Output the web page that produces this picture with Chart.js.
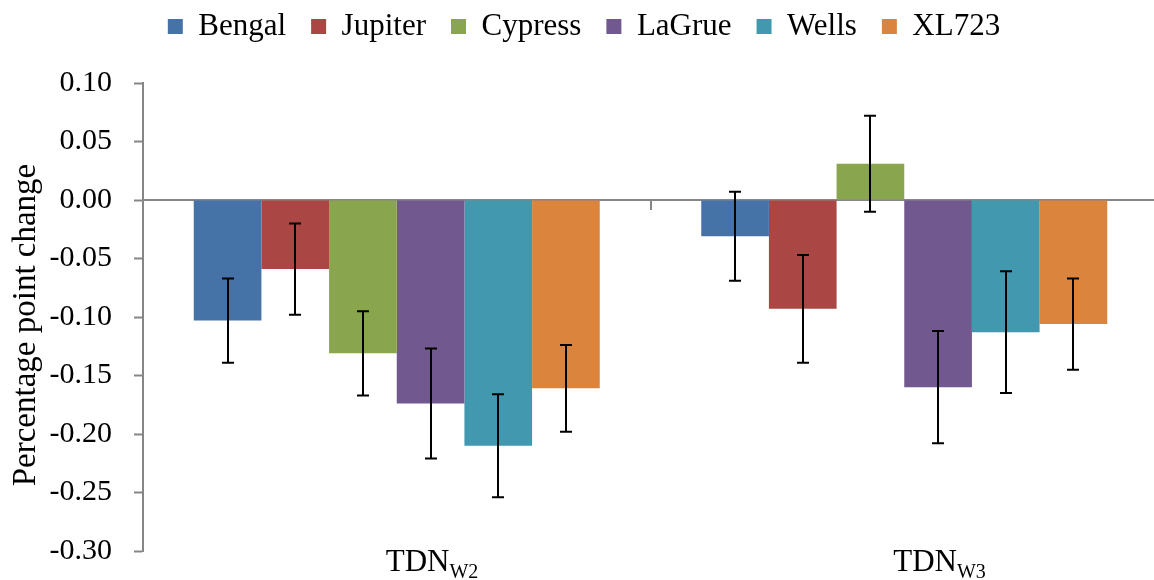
<!DOCTYPE html>
<html>
<head>
<meta charset="utf-8">
<script src="https://cdn.jsdelivr.net/npm/chart.js@4/dist/chart.umd.min.js"></script>
<style>
  html, body { margin: 0; padding: 0; overflow: hidden; background: #ffffff; }
  canvas { display: block; }
</style>
</head>
<body>
<canvas id="chart" width="1158" height="580" style="width:1158px;height:580px"></canvas>
<script>
// Categories: trait name with subscript (week)
const labelBase = ['TDN', 'TDN'];
const labelSub = ['W2', 'W3'];
const categories = labelBase.map((b, i) => b + labelSub[i]);

// Cultivars
const seriesNames = ['Bengal', 'Jupiter', 'Cypress', 'LaGrue', 'Wells', 'XL723'];

// Mean percentage point change per cultivar
const bengal  = [-0.103, -0.031];
const jupiter = [-0.059, -0.093];
const cypress = [-0.131,  0.031];
const lagrue  = [-0.174, -0.160];
const wells   = [-0.210, -0.113];
const xl723   = [-0.161, -0.106];

// Error bar half-lengths
const bengalErr  = [0.036, 0.038];
const jupiterErr = [0.039, 0.046];
const cypressErr = [0.036, 0.041];
const lagrueErr  = [0.047, 0.048];
const wellsErr   = [0.044, 0.052];
const xl723Err   = [0.037, 0.039];

// Value axis
const yMin = -0.30;
const yMax = 0.10;
const yStep = 0.05;
const yTitle = 'Percentage point change';

const seriesValues = [bengal, jupiter, cypress, lagrue, wells, xl723];
const seriesErrors = [bengalErr, jupiterErr, cypressErr, lagrueErr, wellsErr, xl723Err];
const seriesColors = ['#4572A7', '#AA4643', '#89A54E', '#71588F', '#4198AF', '#DB843D'];

const FONT = '"Liberation Serif", "Times New Roman", serif';
const AXIS_GREY = '#868686';

// Pins the legend block height so the plot area starts where it should
const legendHeight = {
  id: 'legendHeight',
  beforeLayout(chart) {
    const lg = chart.legend;
    if (lg && !lg._fixedHeight) {
      const fit = lg.fit;
      lg.fit = function () { fit.call(this); this.height = 97; };
      lg._fixedHeight = true;
    }
  }
};

// Vertical error bars with caps, centred on each bar
const errorBars = {
  id: 'errorBars',
  afterDatasetsDraw(chart) {
    const y = chart.scales.y;
    const ctx = chart.ctx;
    ctx.save();
    ctx.strokeStyle = '#000000';
    ctx.lineWidth = 2;
    chart.data.datasets.forEach((ds, i) => {
      const meta = chart.getDatasetMeta(i);
      meta.data.forEach((bar, j) => {
        const v = ds.data[j];
        const e = ds.errors[j];
        const yt = y.getPixelForValue(v + e);
        const yb = y.getPixelForValue(v - e);
        const cx = Math.round(bar.x);
        ctx.beginPath();
        ctx.moveTo(cx, yt); ctx.lineTo(cx, yb);
        ctx.moveTo(cx - 6, yt); ctx.lineTo(cx + 6, yt);
        ctx.moveTo(cx - 6, yb); ctx.lineTo(cx + 6, yb);
        ctx.stroke();
      });
    });
    ctx.restore();
  }
};

// Category labels with subscripts, plus the rotated value-axis title
const axisText = {
  id: 'axisText',
  afterDraw(chart) {
    const x = chart.scales.x;
    const area = chart.chartArea;
    const ctx = chart.ctx;
    const base = area.bottom + 20;
    ctx.save();
    ctx.fillStyle = '#000000';
    ctx.textAlign = 'left';
    ctx.textBaseline = 'alphabetic';
    labelBase.forEach((b, i) => {
      const px = x.getPixelForValue(i) - 11;
      ctx.font = '31px ' + FONT;
      ctx.fillText(b, px, base);
      const w = ctx.measureText(b).width;
      ctx.font = '20px ' + FONT;
      ctx.fillText(labelSub[i], px + w, base + 7);
    });

    ctx.translate(26, (area.top + area.bottom) / 2 + 8);
    ctx.rotate(-Math.PI / 2);
    ctx.textAlign = 'center';
    ctx.textBaseline = 'middle';
    ctx.font = '33px ' + FONT;
    ctx.fillText(yTitle, 0, 0);
    ctx.restore();
  }
};

new Chart(document.getElementById('chart'), {
  type: 'bar',
  data: {
    labels: categories,
    datasets: seriesNames.map((name, i) => ({
      label: name,
      data: seriesValues[i],
      errors: seriesErrors[i],
      backgroundColor: seriesColors[i],
      borderWidth: 0,
      categoryPercentage: 0.8,
      barPercentage: 1.0
    }))
  },
  options: {
    responsive: false,
    animation: false,
    devicePixelRatio: 1,
    layout: { padding: { top: -14, right: 0, bottom: 29, left: 10 } },
    plugins: {
      legend: {
        display: true,
        position: 'top',
        labels: {
          font: { family: FONT, size: 31 },
          color: '#000000',
          boxWidth: 15,
          boxHeight: 15,
          padding: 25
        }
      },
      tooltip: { enabled: false }
    },
    scales: {
      x: {
        type: 'category',
        position: { y: 0 },
        offset: true,
        grid: {
          offset: true,
          drawOnChartArea: false,
          drawTicks: true,
          tickLength: 9,
          color: AXIS_GREY,
          lineWidth: 2
        },
        border: { display: true, color: AXIS_GREY, width: 2 },
        ticks: { display: false }
      },
      y: {
        min: yMin,
        max: yMax,
        afterFit(scale) {
          scale.width = 133;
          scale.paddingTop = 10;
          scale.paddingBottom = 10;
        },
        ticks: {
          stepSize: yStep,
          padding: 22,
          color: '#000000',
          font: { family: FONT, size: 30 },
          callback: (v) => (Math.abs(v) < 1e-9 ? 0 : v).toFixed(2)
        },
        grid: {
          drawOnChartArea: false,
          drawTicks: true,
          tickLength: 9,
          tickColor: AXIS_GREY,
          tickWidth: 2,
          color: AXIS_GREY
        },
        border: { display: true, color: AXIS_GREY, width: 2 },
        title: { display: false }
      }
    }
  },
  plugins: [legendHeight, errorBars, axisText]
});
</script>
</body>
</html>
